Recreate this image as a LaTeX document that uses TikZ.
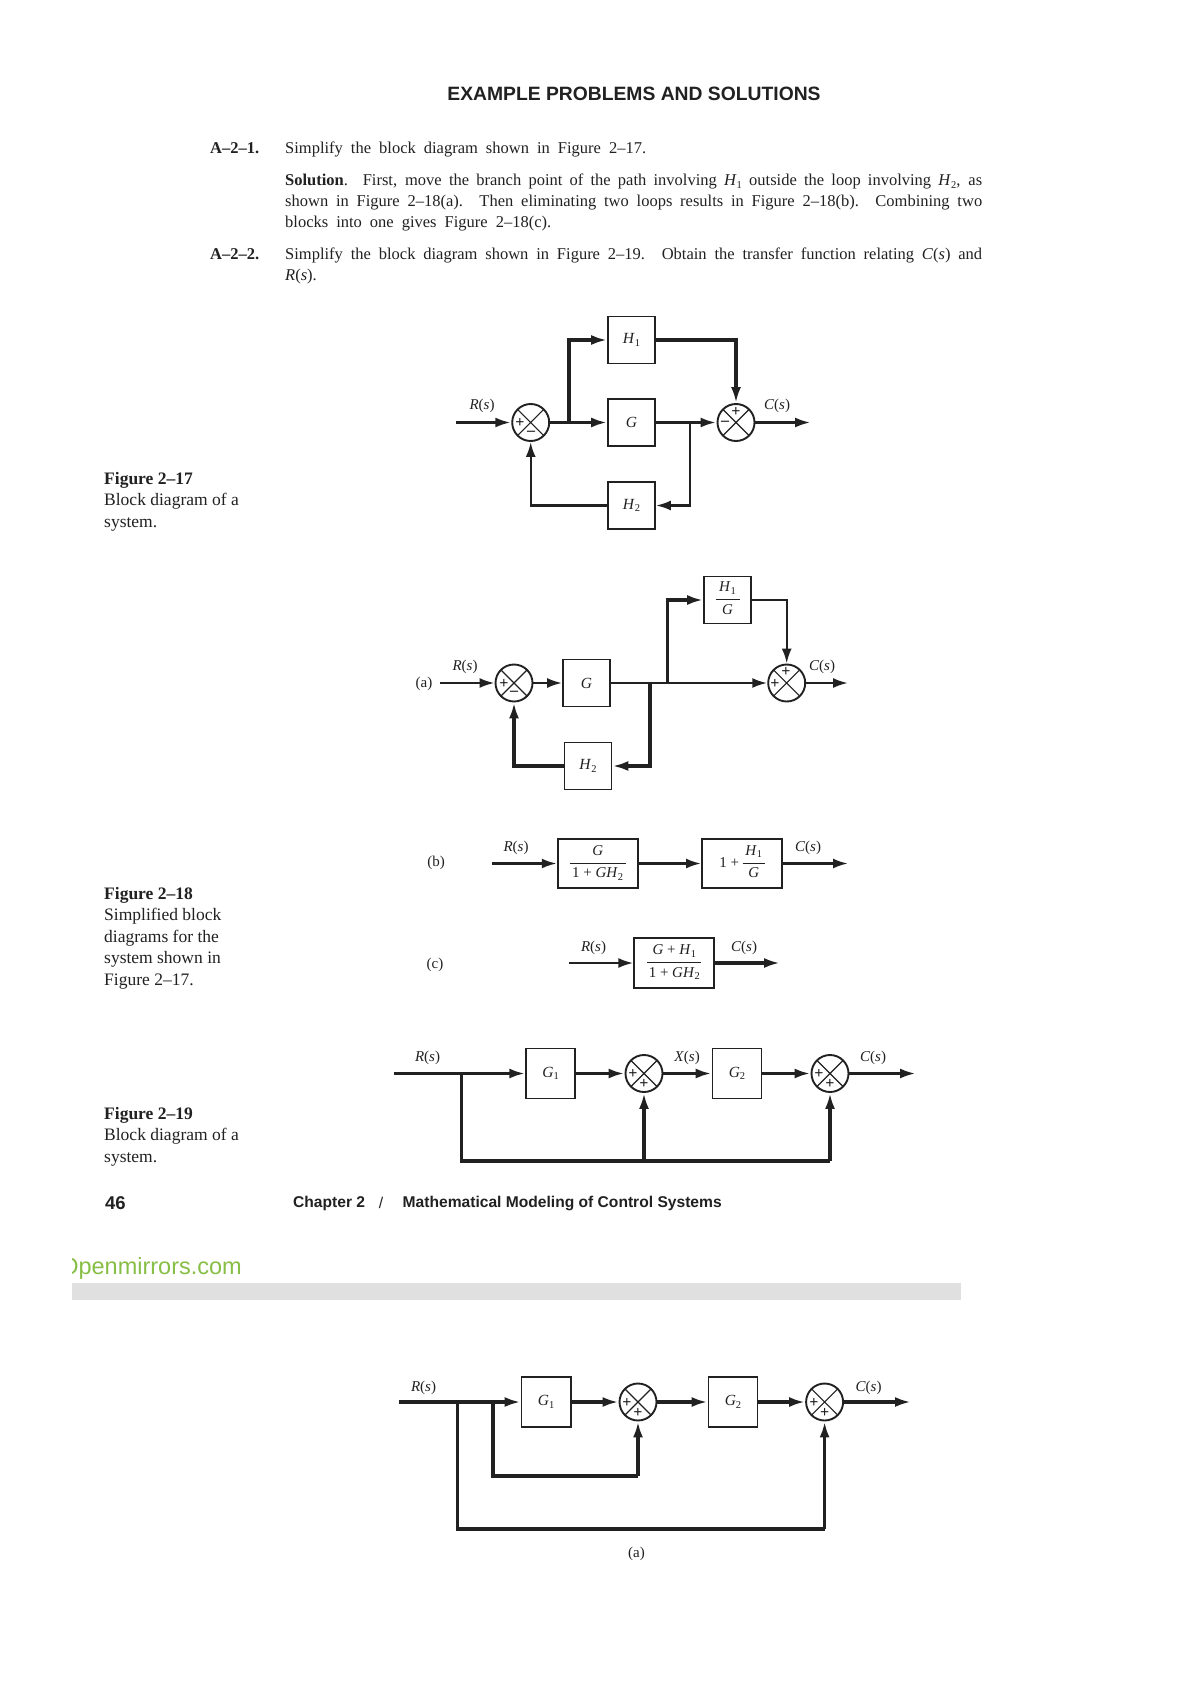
\documentclass[tikz,border=0pt]{standalone}
\usepackage{fontspec}
\setmainfont{Liberation Serif}
\newfontfamily\hdfont{Liberation Sans}
\usetikzlibrary{arrows.meta,calc}
\definecolor{ink}{gray}{0.13}
\definecolor{greenmark}{RGB}{135,190,70}
\newcommand{\px}[1]{\fontsize{#1}{#1}\selectfont}
\newcommand{\rs}{\textit{R}(\textit{s})}
\newcommand{\cs}{\textit{C}(\textit{s})}
\newcommand{\dsub}[1]{\raisebox{-0.35ex}{\px{10.5}#1}}
\newcommand{\Hone}{\textit{H}\dsub{1}}
\newcommand{\Htwo}{\textit{H}\dsub{2}}
\newcommand{\fr}[3]{\begin{tabular}{@{}c@{}}#1\\[-3pt]\rule[3.5pt]{#3}{0.9pt}\\[-4.5pt]#2\end{tabular}}
\tikzset{
  every node/.style={text=ink},
  blk/.style={draw=ink,line width=1.7pt,inner sep=0pt,minimum width=47pt,minimum height=47pt,font=\px{15.5}},
  wide/.style={draw=ink,line width=1.9pt,inner sep=0pt,minimum width=80pt,minimum height=49.5pt,font=\px{15}},
  sumj/.style={circle,draw=ink,line width=1.9pt,inner sep=0pt,minimum size=37pt,
    path picture={\draw[ink,line width=1.1pt]
      (path picture bounding box.north west)--(path picture bounding box.south east)
      (path picture bounding box.north east)--(path picture bounding box.south west);}},
  sgn/.style={inner sep=0pt,font=\px{16}\bfseries},
  lbl/.style={inner sep=0pt,font=\px{15}},
  fat/.style={draw=ink,line width=3.4pt,-{Latex[length=16pt,width=10pt]}},
  fatw/.style={draw=ink,line width=3.4pt},
  slim/.style={draw=ink,line width=2.4pt,-{Latex[length=15pt,width=10pt]}},
  slimw/.style={draw=ink,line width=2.4pt},
  body/.style={anchor=base west,inner sep=0pt,font=\px{16.5}},
  captxt/.style={anchor=base west,inner sep=0pt,font=\px{17.5}},
}
\begin{document}
\begin{tikzpicture}[x=1pt,y=-1pt]
\useasboundingbox (0,0) rectangle (1200,1696);
\fill[white] (0,0) rectangle (1200,1696);

% ---- header and text
\node[inner sep=0pt,font=\hdfont\bfseries\px{19.3}] (head) at (634,93.5) {EXAMPLE PROBLEMS AND SOLUTIONS};
\node[body] (t1a) at (210,153.5) {\textbf{A--2--1.}};
\node[body] (t1b) at (285,153.5) {\makebox[361pt][s]{Simplify the block diagram shown in Figure 2--17.}};
\node[body] (t2) at (285,185.5) {\makebox[697pt][s]{\textbf{Solution}. First, move the branch point of the path involving \textit{H}\dsub{1} outside the loop involving \textit{H}\dsub{2}, as}};
\node[body] (t3) at (285,206.8) {\makebox[697pt][s]{shown in Figure 2--18(a). Then eliminating two loops results in Figure 2--18(b). Combining two}};
\node[body] (t4) at (285,228) {\makebox[266pt][s]{blocks into one gives Figure 2--18(c).}};
\node[body] (t5a) at (210,259) {\textbf{A--2--2.}};
\node[body] (t5b) at (285,259) {\makebox[697pt][s]{Simplify the block diagram shown in Figure 2--19. Obtain the transfer function relating \textit{C}(\textit{s}) and}};
\node[body] (t6) at (285,280.5) {\textit{R}(\textit{s}).};

% ---- captions
\node[captxt] (c1a) at (104,484) {\textbf{Figure 2--17}};
\node[captxt] (c1b) at (104,505.5) {Block diagram of a};
\node[captxt] (c1c) at (104,527) {system.};
\node[captxt] (c2a) at (104,899) {\textbf{Figure 2--18}};
\node[captxt] (c2b) at (104,920.5) {Simplified block};
\node[captxt] (c2c) at (104,942) {diagrams for the};
\node[captxt] (c2d) at (104,963.5) {system shown in};
\node[captxt] (c2e) at (104,985) {Figure 2--17.};
\node[captxt] (c3a) at (104,1119) {\textbf{Figure 2--19}};
\node[captxt] (c3b) at (104,1140.5) {Block diagram of a};
\node[captxt] (c3c) at (104,1162) {system.};

% ---- Figure 2-17
\node[blk] (ah1) at (631.5,340) {\Hone};
\node[blk] (ag) at (631.5,422.5) {\textit{G}};
\node[blk] (ah2) at (631.5,505.5) {\Htwo};
\node[sumj] (as1) at (530.7,422.5) {};
\node[sumj] (as2) at (736,422.5) {};
\node[sgn] (as1a) at (520,423) {+};
\node[sgn] (as1b) at (531,433) {--};
\node[sgn] (as2a) at (736,412) {+};
\node[sgn] (as2b) at (725,423) {--};
\coordinate (ain) at (456,422.5);
\coordinate (aout) at (811,422.5);
\coordinate (aj1) at (569,422.5);
\coordinate (aj2) at (690,422.5);
\node[lbl] (arl) at (482,406) {\rs};
\node[lbl] (acl) at (777,406) {\cs};
\draw[fat] (ain) -- (as1);
\draw[fat] (as1) -- (ag);
\draw[fat] (aj1) |- (ah1);
\draw[fat] (ah1) -| (as2);
\draw[fat] (ag) -- (as2);
\draw[fat] (as2) -- (aout);
\draw[slim] (aj2) |- (ah2);
\draw[slim] (ah2) -| (as1);

% ---- Figure 2-18 (a)
\node[lbl] (bal) at (424,684) {(a)};
\node[blk,font=\px{15}] (bh1) at (727.5,600) {\fr{\Hone}{\textit{G}}{24pt}};
\node[blk] (bg) at (586.5,683) {\textit{G}};
\node[blk] (bh2) at (588,766) {\Htwo};
\node[sumj] (bs1) at (514,683) {};
\node[sumj] (bs2) at (786.7,683) {};
\node[sgn] (bs1a) at (504,684) {+};
\node[sgn] (bs1b) at (514,693) {--};
\node[sgn] (bs2a) at (786,672) {+};
\node[sgn] (bs2b) at (775,684) {+};
\coordinate (bin) at (440,683);
\coordinate (bout) at (848,683);
\coordinate (bj1) at (650,683);
\coordinate (bj2) at (667.7,683);
\node[lbl] (brl) at (465,667) {\rs};
\node[lbl] (bcl) at (822,667) {\cs};
\draw[slim] (bin) -- (bs1);
\draw[slim] (bs1) -- (bg);
\draw[slimw] (bg) -- (bj2);
\draw[slim] (bj2) -- (bs2);
\draw[slim] (bs2) -- (bout);
\draw[fat] (bj2) |- (bh1);
\draw[slim] (bh1) -| (bs2);
\draw[fat] (bj1) |- (bh2);
\draw[fat] (bh2) -| (bs1);

% ---- Figure 2-18 (b)
\node[lbl] (cbl) at (436,863) {(b)};
\node[wide] (cb1) at (597.7,863.5) {\fr{\textit{G}}{1 + \textit{GH}\dsub{2}}{56pt}};
\node[wide] (cb2) at (742,863.5) {1 + \fr{\Hone}{\textit{G}}{22pt}};
\coordinate (cin) at (492,863.5);
\coordinate (cout) at (848,863.5);
\node[lbl] (crl) at (516,848) {\rs};
\node[lbl] (ccl) at (808,848) {\cs};
\draw[slim] (cin) -- (cb1);
\draw[slim] (cb1) -- (cb2);
\draw[slim] (cb2) -- (cout);

% ---- Figure 2-18 (c)
\node[lbl] (dbl) at (435,965) {(c)};
\node[wide] (db1) at (674.3,963) {\fr{\textit{G} + \Hone}{1 + \textit{GH}\dsub{2}}{54pt}};
\coordinate (din) at (569,963);
\coordinate (dout) at (780,963);
\node[lbl] (drl) at (593.5,948) {\rs};
\node[lbl] (dcl) at (744,948) {\cs};
\draw[slim] (din) -- (db1);
\draw[fat] (db1) -- (dout);

% ---- Figure 2-19
\node[blk,minimum width=49pt,minimum height=50pt] (eg1) at (550.7,1073.5) {\textit{G}\dsub{1}};
\node[blk,minimum width=49pt,minimum height=50pt] (eg2) at (737,1073.5) {\textit{G}\dsub{2}};
\node[sumj] (es1) at (644,1073.5) {};
\node[sumj] (es2) at (830,1073.5) {};
\node[sgn] (es1a) at (633,1074) {+};
\node[sgn] (es1b) at (644,1084) {+};
\node[sgn] (es2a) at (819,1074) {+};
\node[sgn] (es2b) at (830,1084) {+};
\coordinate (ein) at (393.5,1073.5);
\coordinate (eout) at (916,1073.5);
\coordinate (ej) at (461.5,1073.5);
\coordinate (ebl) at (461.5,1161);
\coordinate (ebm) at (644,1161);
\coordinate (ebr) at (830,1161);
\node[lbl] (erl) at (427.5,1058) {\rs};
\node[lbl] (exl) at (687,1058) {\textit{X}(\textit{s})};
\node[lbl] (ecl) at (873,1058) {\cs};
\draw[fat] (ein) -- (eg1);
\draw[fat] (eg1) -- (es1);
\draw[fat] (es1) -- (eg2);
\draw[fat] (eg2) -- (es2);
\draw[fat] (es2) -- (eout);
\draw[fatw] (ej) -- (ebl) -- (ebr);
\draw[fat] (ebm) -- (es1);
\draw[fat] (ebr) -- (es2);

% ---- footer
\node[inner sep=0pt,anchor=west,font=\hdfont\bfseries\px{18.5}] (pg) at (105,1203) {46};
\node[inner sep=0pt,anchor=west,font=\hdfont\bfseries\px{15.6}] (chap) at (293,1203) {Chapter 2};
\node[inner sep=0pt,font=\hdfont\px{15.6}] (slash) at (381,1203) {/};
\node[inner sep=0pt,anchor=west,font=\hdfont\bfseries\px{15.6}] (chap2) at (402.5,1203) {Mathematical Modeling of Control Systems};
\begin{scope}
\clip (72,1240) rectangle (300,1282);
\node[inner sep=0pt,anchor=base east,font=\hdfont\px{23.5},text=greenmark] (gm) at (242,1274) {Openmirrors.com};
\end{scope}
\fill[black!12] (72,1283) rectangle (961,1300);

% ---- lower diagram (a)
\node[blk,minimum width=49.5pt,minimum height=49.5pt] (fg1) at (546.2,1402) {\textit{G}\dsub{1}};
\node[blk,minimum width=49pt,minimum height=49.5pt] (fg2) at (733,1402) {\textit{G}\dsub{2}};
\node[sumj] (fs1) at (638,1402) {};
\node[sumj] (fs2) at (824.6,1402) {};
\node[sgn] (fs1a) at (627,1403) {+};
\node[sgn] (fs1b) at (638,1413) {+};
\node[sgn] (fs2a) at (814,1403) {+};
\node[sgn] (fs2b) at (824.6,1413) {+};
\coordinate (fin) at (399,1402);
\coordinate (fout) at (911,1402);
\coordinate (fj1) at (457.5,1402);
\coordinate (fj2) at (493,1402);
\coordinate (fb1) at (493,1476);
\coordinate (fb1r) at (638,1476);
\coordinate (fb2) at (457.5,1529);
\coordinate (fb2r) at (824.6,1529);
\node[lbl] (frl) at (423.5,1388) {\rs};
\node[lbl] (fcl) at (868.5,1388) {\cs};
\node[lbl] (fal) at (636.5,1554) {(a)};
\draw[fat] (fin) -- (fg1);
\draw[fat] (fg1) -- (fs1);
\draw[fat] (fs1) -- (fg2);
\draw[fat] (fg2) -- (fs2);
\draw[fat] (fs2) -- (fout);
\draw[fatw] (fj2) -- (fb1) -- (fb1r);
\draw[fat] (fb1r) -- (fs1);
\draw[fatw] (fj1) -- (fb2) -- (fb2r);
\draw[fat] (fb2r) -- (fs2);
\end{tikzpicture}
\end{document}
